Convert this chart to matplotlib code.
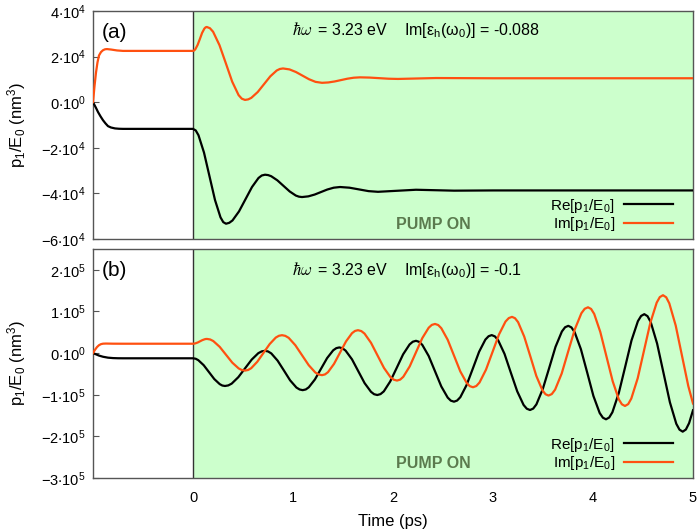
import matplotlib
matplotlib.use("Agg")
import matplotlib.pyplot as plt
from matplotlib.lines import Line2D

plt.rcParams['font.family'] = ['Liberation Sans', 'DejaVu Sans']
plt.rcParams['mathtext.fontset'] = 'custom'
plt.rcParams['mathtext.rm'] = 'Liberation Sans'
plt.rcParams['mathtext.it'] = 'Liberation Sans:italic'
plt.rcParams['mathtext.bf'] = 'Liberation Sans:bold'

# ---- panel (a): Im[eps_h] = -0.088 (values in nm^3) ----
t_re_a = [-1.0, -0.97, -0.95, -0.925, -0.90, -0.875, -0.85, -0.82, -0.78, -0.74, -0.70, -0.60, 0.0,
          0.0275, 0.055, 0.11, 0.165, 0.22, 0.275, 0.3025, 0.33,
          0.3625, 0.395, 0.46, 0.525, 0.59, 0.655, 0.6875, 0.72,
          0.751, 0.782, 0.843, 0.905, 0.967, 1.028, 1.059, 1.09,
          1.153, 1.217, 1.28, 1.343, 1.407, 1.47,
          1.565, 1.66, 1.755, 1.85,
          2.04, 2.23, 2.61, 3.0, 5.0]
re_a = [0, -2500, -4300, -6200, -7900, -9300, -10500, -11100, -11500, -11650, -11700, -11700, -11700,
        -12400, -14500, -22100, -32500, -42900, -50500, -52600, -53300,
        -52900, -51860, -47900, -42550, -37200, -33240, -32150, -31800,
        -31970, -32460, -34250, -36700, -39150, -40940, -41430, -41600,
        -41300, -40500, -39400, -38300, -37500, -37200,
        -37500, -38250, -39000, -39300,
        -38850, -38400, -38800, -38700, -38700]

t_im_a = [-1.0, -0.985, -0.97, -0.955, -0.94, -0.92, -0.90, -0.88, -0.86, -0.82, -0.76, -0.70, 0.0,
          0.011, 0.023, 0.046, 0.069, 0.091, 0.114, 0.126, 0.137,
          0.169, 0.201, 0.265, 0.329, 0.392, 0.456, 0.488, 0.52,
          0.552, 0.583, 0.647, 0.71, 0.773, 0.837, 0.868, 0.90,
          0.965, 1.03, 1.095, 1.16, 1.225, 1.29,
          1.353, 1.417, 1.48, 1.543, 1.607, 1.67,
          1.765, 1.86, 1.955, 2.05,
          2.24, 2.43, 3.0, 5.0]
im_a = [0, 7000, 13000, 17500, 20500, 22000, 22800, 23200, 23300, 23100, 22700, 22500, 22500,
        22680, 23200, 25100, 27750, 30400, 32300, 32820, 33000,
        32460, 30900, 25000, 17000, 9000, 3100, 1540, 1000,
        1235, 1900, 4450, 7900, 11350, 13900, 14565, 14800,
        14380, 13225, 11650, 10075, 8920, 8500,
        8660, 9100, 9700, 10300, 10740, 10900,
        10800, 10550, 10300, 10200,
        10400, 10600, 10500, 10500]

# ---- panel (b): Im[eps_h] = -0.1 ----
t_re_b = [-1.0, -0.97, -0.94, -0.90, -0.85, -0.80, -0.75, -0.70, 0.0,
          0.027, 0.053, 0.107, 0.16, 0.213, 0.267, 0.293, 0.32,
          0.353, 0.387, 0.453, 0.52, 0.587, 0.653, 0.687, 0.72,
          0.751, 0.783, 0.846, 0.909, 0.971, 1.034, 1.066, 1.097,
          1.128, 1.158, 1.219, 1.28, 1.341, 1.402, 1.433, 1.463,
          1.495, 1.526, 1.59, 1.653, 1.716, 1.78, 1.811, 1.843,
          1.875, 1.908, 1.972, 2.037, 2.101, 2.166, 2.198, 2.23,
          2.262, 2.293, 2.357, 2.42, 2.483, 2.547, 2.578, 2.61,
          2.641, 2.673, 2.736, 2.799, 2.861, 2.924, 2.956, 2.987,
          3.019, 3.051, 3.115, 3.178, 3.242, 3.306, 3.338, 3.37,
          3.402, 3.434, 3.498, 3.562, 3.625, 3.689, 3.721, 3.753,
          3.784, 3.816, 3.879, 3.942, 4.004, 4.067, 4.099, 4.13,
          4.162, 4.194, 4.258, 4.322, 4.385, 4.449, 4.481, 4.513,
          4.545, 4.577, 4.641, 4.705, 4.769, 4.833, 4.865, 4.897,
          4.929, 4.961, 5.0]
re_b = [0, -3000, -6000, -8800, -11000, -12000, -12400, -12500, -12500,
        -13600, -17000, -29100, -45750, -62400, -74500, -77900, -79000,
        -77600, -73300, -57900, -36750, -15600, -200, 4100, 5500,
        3900, -800, -18100, -41750, -65400, -82700, -87400, -89000,
        -87300, -82100, -63350, -37700, -12050, 6700, 11900, 13600,
        11650, 5900, -15000, -43550, -72100, -93000, -98750, -100700,
        -98500, -92000, -68150, -35600, -3050, 20800, 27300, 29500,
        27000, 19700, -7050, -43600, -80150, -106900, -114200, -116700,
        -114000, -106000, -76700, -36750, 3200, 32500, 40500, 43200,
        40100, 31100, -1800, -46750, -91700, -124600, -133600, -136700,
        -133300, -123200, -86150, -35600, 14950, 51950, 62100, 65500,
        61700, 50500, 9400, -46750, -102900, -144000, -155200, -159000,
        -154700, -142100, -95900, -32750, 30400, 76600, 89200, 93500,
        88700, 74600, 22950, -47600, -118150, -169800, -183900, -188700,
        -183500, -168200, -137300]

t_im_b = [-1.0, -0.98, -0.96, -0.94, -0.92, -0.90, -0.87, -0.80, -0.70, 0.0,
          0.012, 0.023, 0.047, 0.07, 0.093, 0.117, 0.128, 0.14,
          0.172, 0.203, 0.267, 0.33, 0.393, 0.457, 0.488, 0.52,
          0.551, 0.582, 0.643, 0.705, 0.767, 0.828, 0.859, 0.89,
          0.923, 0.957, 1.023, 1.09, 1.157, 1.223, 1.257, 1.29,
          1.32, 1.35, 1.41, 1.47, 1.53, 1.59, 1.62, 1.65,
          1.683, 1.715, 1.78, 1.845, 1.91, 1.975, 2.008, 2.04,
          2.072, 2.103, 2.167, 2.23, 2.293, 2.357, 2.388, 2.42,
          2.452, 2.483, 2.547, 2.61, 2.673, 2.737, 2.768, 2.80,
          2.833, 2.865, 2.93, 2.995, 3.06, 3.125, 3.158, 3.19,
          3.22, 3.251, 3.312, 3.373, 3.433, 3.494, 3.525, 3.555,
          3.588, 3.621, 3.687, 3.752, 3.818, 3.884, 3.917, 3.95,
          3.981, 4.012, 4.073, 4.135, 4.197, 4.258, 4.289, 4.32,
          4.352, 4.383, 4.447, 4.51, 4.573, 4.637, 4.668, 4.70,
          4.732, 4.763, 4.827, 4.89, 4.953, 5.0]
im_b = [0, 8000, 14500, 19000, 21500, 22600, 22900, 22600, 22500, 22500,
        22700, 23300, 25400, 28300, 31100, 33200, 33800, 34000,
        32700, 28900, 15000, -4000, -23000, -36900, -40700, -42000,
        -40550, -36300, -20750, 500, 21750, 37300, 41550, 43000,
        41400, 36600, 19000, -5000, -29000, -46600, -51400, -53000,
        -51200, -45800, -26000, 1000, 28000, 47800, 53200, 55000,
        52900, 46900, 24750, -5500, -35750, -57900, -63900, -66000,
        -63700, -56900, -32000, 2000, 36000, 60900, 67700, 70000,
        67400, 59800, 32000, -6000, -44000, -71800, -79400, -82000,
        -79100, -70700, -39750, 2500, 44750, 75700, 84100, 87000,
        83800, 74300, 39750, -7500, -54750, -89300, -98800, -102000,
        -98400, -87800, -49000, 4000, 57000, 95800, 106400, 110000,
        106000, 94100, 50750, -8500, -67750, -111100, -123000, -127000,
        -122500, -109200, -60500, 6000, 72500, 121200, 134500, 139000,
        134050, 119500, 66250, -6500, -79250, -121000]

# tick values as (mantissa, exponent)
yticks_a = [(-6, 4), (-4, 4), (-2, 4), (0, 0), (2, 4), (4, 4)]
yticks_b = [(-3, 5), (-2, 5), (-1, 5), (0, 0), (1, 5), (2, 5)]
xticks = [0, 1, 2, 3, 4, 5]
im_eps = ["-0.088", "-0.1"]

RE_COLOR = "black"
IM_COLOR = "#ff5010"
PUMP_BG = "#ccffcc"
PUMP_TXT = "#5b7a4e"
FRAME = "#555555"


def tick_label(m, e):
    return r"$\mathregular{%d{\cdot}10^{%d}}$" % (m, e)


fig = plt.figure(figsize=(7.0, 5.31), dpi=100)
ax1 = fig.add_axes([93 / 700, 1 - 239 / 531, 600 / 700, 228 / 531])
ax2 = fig.add_axes([93 / 700, 1 - 478 / 531, 600 / 700, 229 / 531])

panels = [
    (ax1, t_re_a, re_a, t_im_a, im_a, yticks_a, (-6e4, 4e4), "(a)", im_eps[0]),
    (ax2, t_re_b, re_b, t_im_b, im_b, yticks_b, (-3e5, 2.5e5), "(b)", im_eps[1]),
]

for ax, tr, vr, ti, vi, yt, ylim, tag, eps in panels:
    ax.axvspan(0, 5, color=PUMP_BG, zorder=0, lw=0)
    ax.axvline(0, color="#333333", lw=1.0, zorder=1)
    ax.plot(tr, vr, color=RE_COLOR, lw=1.6, zorder=3, solid_joinstyle="round")
    ax.plot(ti, vi, color=IM_COLOR, lw=1.6, zorder=3, solid_joinstyle="round")
    ax.set_xlim(-1, 5)
    ax.set_ylim(*ylim)
    ax.set_yticks([m * 10 ** e for m, e in yt])
    ax.set_yticklabels([tick_label(m, e) for m, e in yt])
    ax.set_xticks(xticks)
    ax.tick_params(axis="y", direction="in", length=4, width=0.8, color=FRAME,
                   labelsize=10.5, pad=5)
    ax.tick_params(axis="x", length=0, labelsize=10.5, pad=9)
    for sp in ax.spines.values():
        sp.set_color(FRAME)
        sp.set_linewidth(1.0)

    ax.set_ylabel(r"p$_1$/E$_0$ (nm$^3$)", fontsize=12)
    ax.yaxis.set_label_coords(-0.128, 0.5)
    ax.yaxis.label.set_va("center")

    ax.text(0.014, 0.905, tag, transform=ax.transAxes, fontsize=15,
            ha="left", va="center")
    ax.text(0.567, 0.062, "PUMP ON", transform=ax.transAxes, fontsize=11.5,
            fontweight="bold", color=PUMP_TXT, ha="center", va="center")

    handles = [Line2D([], [], color=RE_COLOR, lw=1.6),
               Line2D([], [], color=IM_COLOR, lw=1.6)]
    ax.legend(handles, [r"Re[p$_1$/E$_0$]", r"Im[p$_1$/E$_0$]"],
              loc="lower right", bbox_to_anchor=(0.967, 0.025), frameon=False,
              markerfirst=False, fontsize=11, handlelength=3.2,
              handletextpad=0.6, labelspacing=0.05, borderaxespad=0,
              borderpad=0)

    ax.info_text = (r"$\hbar\omega$",
                    r" = 3.23 eV    Im[ε$_{\mathregular{h}}$(ω$_{\mathregular{0}}$)] = " + eps)

ax1.tick_params(axis="x", labelbottom=False)
ax2.set_xlabel("Time (ps)", fontsize=12)
ax2.xaxis.set_label_coords(0.5, -0.19)
ax2.xaxis.label.set_va("center")

# header line: hbar-omega in a serif italic, the rest in the sans font
fig.canvas.draw()
renderer = fig.canvas.get_renderer()
for ax, ypos in [(ax1, 0.895), (ax2, 0.885)]:
    s1, s2 = ax.info_text
    t1 = ax.text(0.332, ypos, s1, transform=ax.transAxes, fontsize=12,
                 math_fontfamily="cm", ha="left", va="baseline")
    bb = t1.get_window_extent(renderer=renderer)
    x_end = ax.transAxes.inverted().transform((bb.x1, bb.y0))[0]
    ax.text(x_end, ypos, s2, transform=ax.transAxes, fontsize=11.5,
            ha="left", va="baseline")

fig.savefig("out.png", dpi=100)
